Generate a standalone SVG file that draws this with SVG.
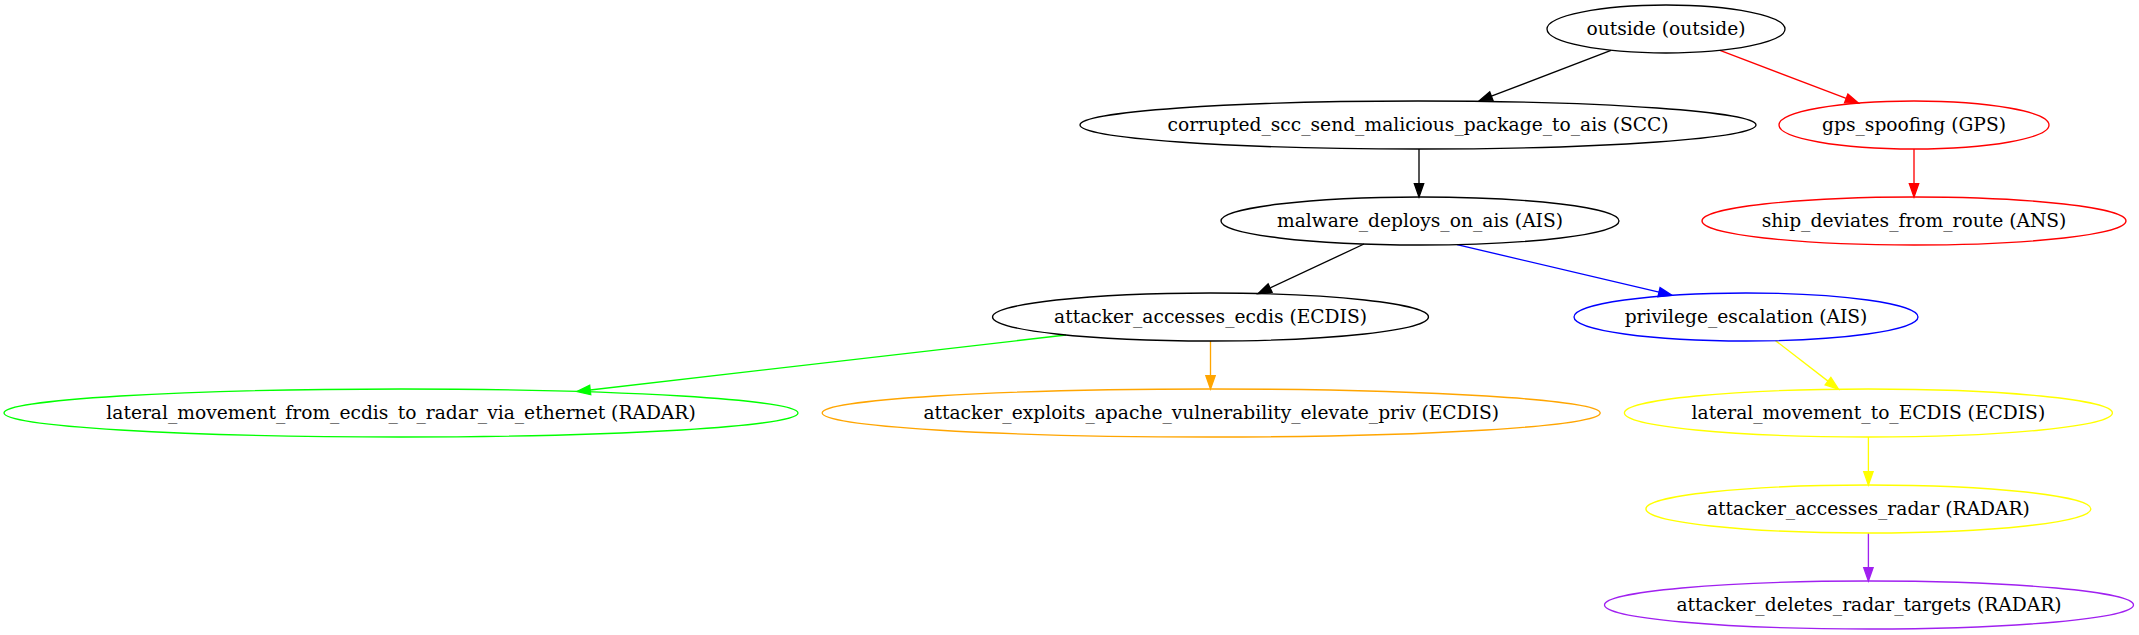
<svg xmlns="http://www.w3.org/2000/svg" width="2139" height="635" viewBox="0 0 2139 635">
<style>
.n ellipse{fill:none;stroke-width:1.33}
.n text{font-family:"DejaVu Serif",serif;font-size:18.67px;text-anchor:middle;fill:#000}
.e line{stroke-width:1.33;fill:none}
.k{stroke:#000}.r{stroke:#ff0000}.b{stroke:#0000ff}.g{stroke:#00ff00}.o{stroke:#ffa500}.y{stroke:#ffff00}.p{stroke:#a020f0}
</style>
<defs>
<marker id="ak" markerUnits="userSpaceOnUse" markerWidth="16" markerHeight="12" refX="0" refY="6" orient="auto" overflow="visible"><path d="M0,1.33 L13.33,6 L0,10.67 z" fill="#000" stroke="#000" stroke-width="1.33"/></marker>
<marker id="ar" markerUnits="userSpaceOnUse" markerWidth="16" markerHeight="12" refX="0" refY="6" orient="auto" overflow="visible"><path d="M0,1.33 L13.33,6 L0,10.67 z" fill="#ff0000" stroke="#ff0000" stroke-width="1.33"/></marker>
<marker id="ab" markerUnits="userSpaceOnUse" markerWidth="16" markerHeight="12" refX="0" refY="6" orient="auto" overflow="visible"><path d="M0,1.33 L13.33,6 L0,10.67 z" fill="#0000ff" stroke="#0000ff" stroke-width="1.33"/></marker>
<marker id="ag" markerUnits="userSpaceOnUse" markerWidth="16" markerHeight="12" refX="0" refY="6" orient="auto" overflow="visible"><path d="M0,1.33 L13.33,6 L0,10.67 z" fill="#00ff00" stroke="#00ff00" stroke-width="1.33"/></marker>
<marker id="ao" markerUnits="userSpaceOnUse" markerWidth="16" markerHeight="12" refX="0" refY="6" orient="auto" overflow="visible"><path d="M0,1.33 L13.33,6 L0,10.67 z" fill="#ffa500" stroke="#ffa500" stroke-width="1.33"/></marker>
<marker id="ay" markerUnits="userSpaceOnUse" markerWidth="16" markerHeight="12" refX="0" refY="6" orient="auto" overflow="visible"><path d="M0,1.33 L13.33,6 L0,10.67 z" fill="#ffff00" stroke="#ffff00" stroke-width="1.33"/></marker>
<marker id="ap" markerUnits="userSpaceOnUse" markerWidth="16" markerHeight="12" refX="0" refY="6" orient="auto" overflow="visible"><path d="M0,1.33 L13.33,6 L0,10.67 z" fill="#a020f0" stroke="#a020f0" stroke-width="1.33"/></marker>
</defs>
<rect width="2139" height="635" fill="#fff"/>
<g id="edges" class="e">
<line class="k" x1="1611" y1="50.3" x2="1491.4" y2="96.2" marker-end="url(#ak)"/>
<line class="r" x1="1720" y1="50.3" x2="1846.2" y2="98.45" marker-end="url(#ar)"/>
<line class="k" x1="1419" y1="149" x2="1419" y2="183.7" marker-end="url(#ak)"/>
<line class="r" x1="1914" y1="149" x2="1914" y2="183.7" marker-end="url(#ar)"/>
<line class="k" x1="1364" y1="244" x2="1270.1" y2="288" marker-end="url(#ak)"/>
<line class="b" x1="1457" y1="244.6" x2="1659" y2="292.2" marker-end="url(#ab)"/>
<line class="g" x1="1066" y1="335" x2="590.2" y2="390" marker-end="url(#ag)"/>
<line class="o" x1="1210.5" y1="341" x2="1210.5" y2="375.7" marker-end="url(#ao)"/>
<line class="y" x1="1775.5" y1="340.6" x2="1828" y2="381.1" marker-end="url(#ay)"/>
<line class="y" x1="1868.4" y1="437" x2="1868.4" y2="471.7" marker-end="url(#ay)"/>
<line class="p" x1="1868.4" y1="533" x2="1868.4" y2="567.7" marker-end="url(#ap)"/>
</g>
<g id="outside" class="n"><ellipse class="k" cx="1666" cy="29" rx="119" ry="24"/><text x="1666" y="35">outside (outside)</text></g>
<g id="corrupted_scc_send_malicious_package_to_ais" class="n"><ellipse class="k" cx="1418" cy="125" rx="338" ry="24"/><text x="1418" y="131">corrupted_scc_send_malicious_package_to_ais (SCC)</text></g>
<g id="gps_spoofing" class="n"><ellipse class="r" cx="1914" cy="125" rx="135" ry="24"/><text x="1914" y="131">gps_spoofing (GPS)</text></g>
<g id="malware_deploys_on_ais" class="n"><ellipse class="k" cx="1420" cy="221" rx="199" ry="24"/><text x="1420" y="227">malware_deploys_on_ais (AIS)</text></g>
<g id="ship_deviates_from_route" class="n"><ellipse class="r" cx="1914" cy="221" rx="212" ry="24"/><text x="1914" y="227">ship_deviates_from_route (ANS)</text></g>
<g id="attacker_accesses_ecdis" class="n"><ellipse class="k" cx="1210.5" cy="317" rx="218" ry="24"/><text x="1210.5" y="323">attacker_accesses_ecdis (ECDIS)</text></g>
<g id="privilege_escalation" class="n"><ellipse class="b" cx="1746" cy="317" rx="172" ry="24"/><text x="1746" y="323">privilege_escalation (AIS)</text></g>
<g id="lateral_movement_from_ecdis_to_radar_via_ethernet" class="n"><ellipse class="g" cx="401" cy="413" rx="397" ry="24"/><text x="401" y="419">lateral_movement_from_ecdis_to_radar_via_ethernet (RADAR)</text></g>
<g id="attacker_exploits_apache_vulnerability_elevate_priv" class="n"><ellipse class="o" cx="1211.2" cy="413" rx="389" ry="24"/><text x="1211.2" y="419">attacker_exploits_apache_vulnerability_elevate_priv (ECDIS)</text></g>
<g id="lateral_movement_to_ECDIS" class="n"><ellipse class="y" cx="1868.4" cy="413" rx="244" ry="24"/><text x="1868.4" y="419">lateral_movement_to_ECDIS (ECDIS)</text></g>
<g id="attacker_accesses_radar" class="n"><ellipse class="y" cx="1868.4" cy="509" rx="222.5" ry="24"/><text x="1868.4" y="515">attacker_accesses_radar (RADAR)</text></g>
<g id="attacker_deletes_radar_targets" class="n"><ellipse class="p" cx="1869" cy="605" rx="264.5" ry="24"/><text x="1869" y="611">attacker_deletes_radar_targets (RADAR)</text></g>
</svg>
